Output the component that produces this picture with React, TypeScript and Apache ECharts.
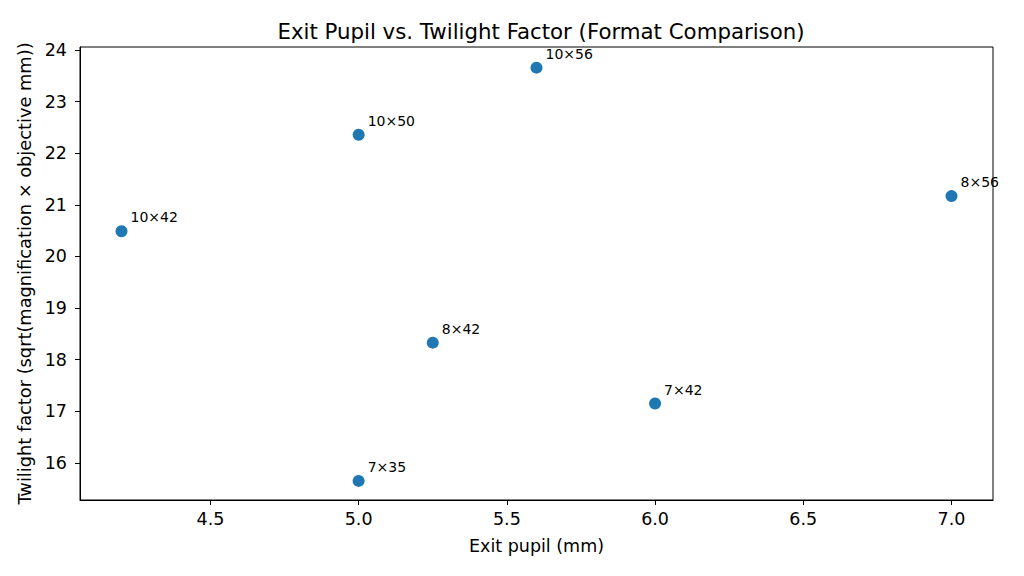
import React, { useEffect, useRef } from "react";
import * as echarts from "echarts";

const formats = ["10×42", "10×50", "10×56", "8×56", "8×42", "7×42", "7×35"];
const exitPupil = [4.2, 5.0, 5.6, 7.0, 5.25, 6.0, 5.0];
const twilight = [20.49, 22.36, 23.66, 21.17, 18.33, 17.15, 15.65];
const xTicks = [4.5, 5.0, 5.5, 6.0, 6.5, 7.0];
const yTicks = [16, 17, 18, 19, 20, 21, 22, 23, 24];

export default function App() {
  const ref = useRef<HTMLDivElement>(null);
  useEffect(() => {
    const chart = echarts.init(ref.current!, null, { renderer: "svg" });
    const font = "DejaVu Sans";
    chart.setOption({
      animation: false,
      backgroundColor: "#ffffff",
      textStyle: { fontFamily: font },
      title: {
        text: "Exit Pupil vs. Twilight Factor (Format Comparison)",
        left: 536,
        top: 16,
        textAlign: "center",
        textStyle: { fontFamily: font, fontSize: 21.3, fontWeight: "normal", color: "#000" },
      },
      grid: {
        left: 80,
        right: 31,
        top: 47,
        bottom: 76,
        show: true,
        borderColor: "#000",
        borderWidth: 1,
        backgroundColor: "transparent",
      },
      xAxis: {
        type: "value",
        min: 4.06,
        max: 7.14,
        name: "Exit pupil (mm)",
        nameLocation: "middle",
        nameGap: 37,
        nameTextStyle: { fontFamily: font, fontSize: 17.5, color: "#000" },
        splitLine: { show: false },
        axisLine: { show: true, lineStyle: { color: "#000" } },
        axisTick: { show: true, inside: false, length: 5, customValues: xTicks, lineStyle: { color: "#000" } },
        axisLabel: {
          customValues: xTicks,
          formatter: (v: number) => v.toFixed(1),
          fontFamily: font,
          fontSize: 17.5,
          color: "#000",
          margin: 10,
        },
      },
      yAxis: {
        type: "value",
        min: 15.28,
        max: 24.06,
        name: "Twilight factor (sqrt(magnification × objective mm))",
        nameLocation: "middle",
        nameGap: 45,
        nameRotate: 90,
        nameTextStyle: { fontFamily: font, fontSize: 17.8, color: "#000" },
        splitLine: { show: false },
        axisLine: { show: true, lineStyle: { color: "#000" } },
        axisTick: { show: true, inside: false, length: 5, customValues: yTicks, lineStyle: { color: "#000" } },
        axisLabel: {
          customValues: yTicks,
          formatter: (v: number) => String(Math.round(v)),
          fontFamily: font,
          fontSize: 17.5,
          color: "#000",
          margin: 13,
        },
      },
      series: [
        {
          type: "scatter",
          symbol: "circle",
          symbolSize: 12,
          itemStyle: { color: "#1f77b4", opacity: 1 },
          data: exitPupil.map((x, i) => ({ value: [x, twilight[i]], name: formats[i] })),
          label: {
            show: true,
            formatter: (p: any) => p.name,
            position: [15, -8],
            align: "left",
            verticalAlign: "middle",
            fontFamily: font,
            fontSize: 14,
            color: "#000",
          },
        },
      ],
    });
    return () => chart.dispose();
  }, []);
  return (
    <div
      ref={ref}
      style={{ position: "fixed", left: 0, top: 0, width: 1024, height: 576 }}
    />
  );
}
